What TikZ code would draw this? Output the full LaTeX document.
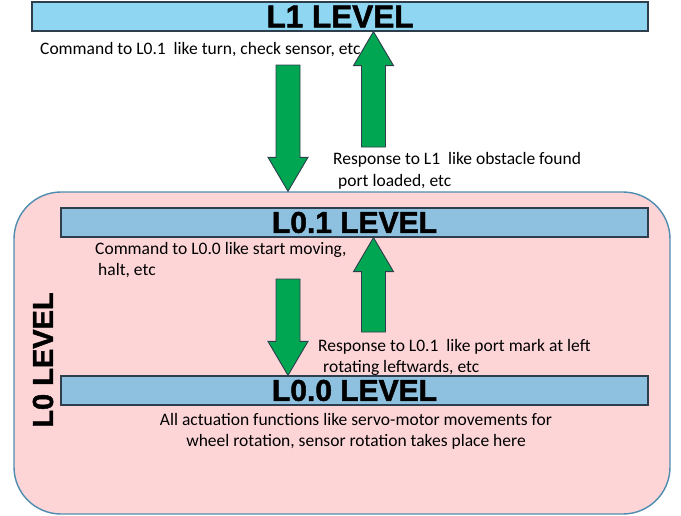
\documentclass[tikz,border=0pt]{standalone}
\usepackage{fontspec}
\setmainfont{Carlito}
\newfontfamily\headfont{Liberation Sans}[BoldFeatures={FakeBold=1.6}]
\usetikzlibrary{calc,positioning}
\definecolor{topblue}{HTML}{8ED6F1}
\definecolor{levblue}{HTML}{8DC1DF}
\definecolor{zonepink}{HTML}{FDD5D7}
\definecolor{zoneline}{HTML}{4F8DB0}
\definecolor{arrgreen}{HTML}{00A651}
\definecolor{barline}{HTML}{2E3E4C}
\tikzset{
  levelbar/.style={draw=barline, line width=1.2pt, minimum height=29pt, inner sep=0pt,
    font=\headfont\bfseries\fontsize{30}{30}\selectfont},
  zone/.style={draw=zoneline, line width=1.4pt, fill=zonepink, rounded corners=47pt},
  note/.style={inner sep=0pt, anchor=west, align=left, font=\fontsize{17.5}{21.5}\selectfont},
  fatarrow/.style={draw=barline, line width=0.9pt, fill=arrgreen, line join=miter},
}
% block arrow from tail to tip (vertical)
\newcommand\fatarrow[2]{%
  \draw[fatarrow] let \p1=(#1), \p2=(#2), \n1={sign(\y2-\y1)} in
    (\x1-12pt,\y1) -- (\x1-12pt,\y2-\n1*34pt) -- (\x1-20pt,\y2-\n1*34pt) -- (\x2,\y2)
    -- (\x1+20pt,\y2-\n1*34pt) -- (\x1+12pt,\y2-\n1*34pt) -- (\x1+12pt,\y1) -- cycle;}

\begin{document}
\begin{tikzpicture}[x=1pt,y=1pt]
  \useasboundingbox (0,0) rectangle (681,-515);
  % L0 zone
  \node[zone, minimum width=656pt, minimum height=322pt] (zone) at (342,-353) {};
  \node[font=\headfont\bfseries\fontsize{29}{30}\selectfont, rotate=90, inner sep=0pt] (l0) at (43,-360) {L0 LEVEL};
  % levels
  \node[levelbar, fill=topblue, minimum width=616pt, font=\headfont\bfseries\fontsize{31.5}{32}\selectfont] (l1) at (340,-16.5) {L1 LEVEL};
  \node[levelbar, fill=levblue, minimum width=587pt] (l01) at (354.5,-222.5) {L0.1 LEVEL};
  \node[levelbar, fill=levblue, minimum width=587pt] (l00) at (354.5,-390.5) {L0.0 LEVEL};
  % arrows
  \coordinate (cmdtail) at (288,-65);
  \coordinate (rsptail) at (373.5,-147);
  \coordinate (cmdtail2) at (288,-279);
  \coordinate (rsptail2) at (373.5,-332);
  \fatarrow{cmdtail}{cmdtail|-zone.north}
  \fatarrow{rsptail}{rsptail|-l1.south}
  \fatarrow{cmdtail2}{cmdtail2|-l00.north}
  \fatarrow{rsptail2}{rsptail2|-l01.south}
  % texts
  \node[note] (cmd1) at (40,-50) {Command to L0.1\ \ like turn, check sensor, etc};
  \node[note] (rsp1) at (333,-171) {Response to L1\ \ like obstacle found\\\hspace{5pt}port loaded, etc};
  \node[note] (cmd2) at (95,-260) {Command to L0.0 like start moving,\\\hspace{3pt}halt, etc};
  \node[note] (rsp2) at (318,-357.5) {Response to L0.1\ \ like port mark at left\\\hspace{5pt}rotating leftwards, etc};
  \node[note, anchor=center, align=center] (act) at (356,-431.5) {All actuation functions like servo-motor movements for\\wheel rotation, sensor rotation takes place here};
\end{tikzpicture}
\end{document}
